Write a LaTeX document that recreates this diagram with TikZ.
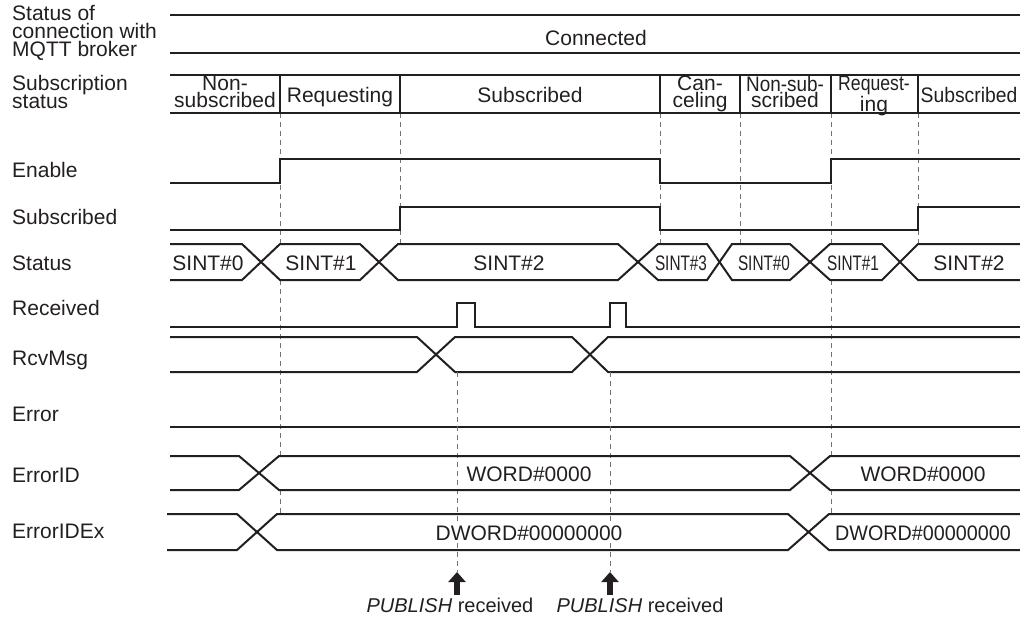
\documentclass[tikz,border=0pt]{standalone}
\usepackage{fontspec}
\setmainfont{Liberation Sans}
\usetikzlibrary{arrows.meta}
\definecolor{ink}{RGB}{35,31,32}

\begin{document}
\begin{tikzpicture}[
	x=1pt, y=-1pt,
	sig/.style={draw=ink, line width=2pt, line join=miter},
	guide/.style={draw=black!55, line width=0.6pt, dash pattern=on 5pt off 4pt},
	lbl/.style={anchor=base west, inner sep=0pt, font=\fontsize{21}{18}\selectfont, text=ink},
	txt/.style={anchor=base, inner sep=0pt, font=\fontsize{21}{16.5}\selectfont, text=ink},
	val/.style={txt, fill=white},
	cell2/.style={txt, anchor=north, align=center},
	pub arrow/.style={draw=ink, line width=6pt, -{Triangle[width=17pt, length=10pt]}},
	pub/.style={anchor=base, inner sep=0pt, font=\fontsize{20}{20}\selectfont, text=ink}
	]
	
	\useasboundingbox (0,0) rectangle (1020,625);
	
	% --- Row labels ---
	\node[lbl, anchor=north west, align=left] (lConn) at (12,5) {Status of\\connection with\\MQTT broker};
	\node[lbl, anchor=north west, align=left] (lSub) at (12,75) {Subscription\\status};
	\node[lbl] (lEnable) at (12,177) {Enable};
	\node[lbl] (lSubscribed) at (12,224) {Subscribed};
	\node[lbl] (lStatus) at (12,270) {Status};
	\node[lbl] (lReceived) at (12,315) {Received};
	\node[lbl] (lRcvMsg) at (12,365) {RcvMsg};
	\node[lbl] (lError) at (12,421) {Error};
	\node[lbl] (lErrorID) at (12,482) {ErrorID};
	\node[lbl] (lErrorIDEx) at (12,538) {ErrorIDEx};
	
	% --- Guide lines (broken at the buses) ---
	\foreach \x in {280,400,660,740,831,918}
		\draw[guide] (\x,113) -- (\x,244);
	\foreach \x in {280,831} {
		\draw[guide] (\x,280) -- (\x,456);
		\draw[guide] (\x,490) -- (\x,514);
	}
	
	% --- Connection with broker ---
	\draw[sig] (170,15) -- (1020,15);
	\draw[sig] (170,53) -- (1020,53);
	\node[txt] (conn) at (596,45) {Connected};
	
	% --- Subscription status ---
	\draw[sig] (170,75) -- (1020,75);
	\draw[sig] (170,113) -- (1020,113);
	\foreach \x in {280,400,660,740,831,918}
		\draw[sig] (\x,75) -- (\x,113);
	
	\node[cell2] (cNonSub) at (225,76) {Non-\\subscribed};
	\node[txt] (cReq) at (340,102) {Requesting};
	\node[txt] (cSubd) at (530,102) {Subscribed};
	\node[cell2] (cCancel) at (700,76) {Can-\\celing};
	\node[cell2] (cNonSub2) at (785,76) {\scalebox{0.9}[1]{Non-sub-}\\scribed};
	\node[cell2] (cReq2) at (874,76) {\scalebox{0.84}[1]{Request-}\\ing};
	\node[txt] (cSubd2) at (969,102) {\scalebox{0.92}[1]{Subscribed}};
	
	% --- Enable / Subscribed ---
	\draw[sig] (170,183) -- (280,183) -- (280,159) -- (660,159) -- (660,183) -- (831,183) -- (831,159) -- (1020,159);
	\draw[sig] (170,230) -- (400,230) -- (400,207) -- (660,207) -- (660,230) -- (918,230) -- (918,207) -- (1020,207);
	
	% --- Status bus ---
	\draw[sig] (170,244) -- (242,244) -- (280,280) -- (360,280) -- (398,244) -- (618,244) -- (658,280) -- (707,280) -- (732,244) -- (790,244) -- (830,280) -- (882,280) -- (918,244) -- (1020,244);
	\draw[sig] (170,280) -- (242,280) -- (280,244) -- (360,244) -- (398,280) -- (618,280) -- (658,244) -- (707,244) -- (732,280) -- (790,280) -- (830,244) -- (882,244) -- (918,280) -- (1020,280);
	
	\node[val] (st0) at (208,270) {SINT\#0};
	\node[val] (st1) at (321,270) {SINT\#1};
	\node[val] (st2) at (509,270) {SINT\#2};
	\node[val] (st3) at (681,270) {\scalebox{0.73}[1]{SINT\#3}};
	\node[val] (st0b) at (764,270) {\scalebox{0.73}[1]{SINT\#0}};
	\node[val] (st1b) at (853,270) {\scalebox{0.73}[1]{SINT\#1}};
	\node[val] (st2b) at (969,270) {SINT\#2};
	
	% --- Received pulses ---
	\draw[sig] (170,327) -- (457,327) -- (457,303) -- (475,303) -- (475,327) -- (610,327) -- (610,303) -- (626,303) -- (626,327) -- (1020,327);
	
	% --- RcvMsg bus ---
	\draw[sig] (170,337) -- (417,337) -- (455,372) -- (572,372) -- (608,337) -- (1020,337);
	\draw[sig] (170,372) -- (417,372) -- (455,337) -- (572,337) -- (608,372) -- (1020,372);
	
	% --- Error ---
	\draw[sig] (170,427) -- (1020,427);
	
	% --- PUBLISH received markers ---
	\coordinate (tip1) at (457,572);
	\coordinate (tail1) at (457,595);
	\coordinate (tip2) at (610,572);
	\coordinate (tail2) at (610,595);
	
	\draw[guide] (457,372) -- (tip1);
	\draw[guide] (610,372) -- (tip2);
	\draw[pub arrow] (tail1) -- (tip1);
	\draw[pub arrow] (tail2) -- (tip2);
	
	\node[pub] (pub1) at (450,612) {\textit{PUBLISH} received};
	\node[pub] (pub2) at (640,612) {\textit{PUBLISH} received};
	
	% --- ErrorID / ErrorIDEx buses ---
	\draw[sig] (170,456) -- (239,456) -- (279,490) -- (790,490) -- (830,456) -- (1020,456);
	\draw[sig] (170,490) -- (239,490) -- (279,456) -- (790,456) -- (830,490) -- (1020,490);
	\node[val] (eid1) at (529,481) {WORD\#0000};
	\node[val] (eid2) at (923,481) {WORD\#0000};
	
	\draw[sig] (167,514) -- (237,514) -- (277,550) -- (788,550) -- (829,514) -- (1020,514);
	\draw[sig] (167,550) -- (237,550) -- (277,514) -- (788,514) -- (829,550) -- (1020,550);
	\node[val] (eidx1) at (529,540) {DWORD\#00000000};
	\node[val] (eidx2) at (923,540) {\scalebox{0.94}[1]{DWORD\#00000000}};
	
\end{tikzpicture}
\end{document}
